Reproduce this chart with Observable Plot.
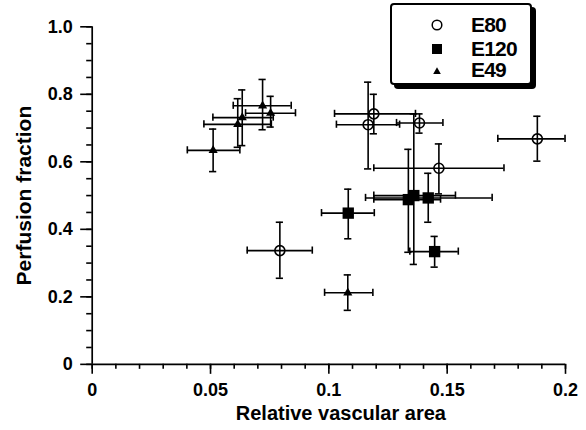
<!DOCTYPE html>
<html>
<head>
<meta charset="utf-8">
<script src="https://cdn.jsdelivr.net/npm/d3@7"></script>
<script src="https://cdn.jsdelivr.net/npm/@observablehq/plot@0.6"></script>
<style>
  body { margin: 0; background: #fff; }
  #wrap { position: relative; width: 586px; height: 430px; }
  .legend { position: absolute; left: 390px; top: 3px; width: 142px; height: 82px;
    border: 2px solid #000; border-radius: 4px; box-shadow: 4px 4px 0 #000; background: #fff;
    box-sizing: border-box; font-family: "Liberation Sans", Arial, sans-serif; font-weight: bold; color: #000; }
  .legend .row { position: absolute; left: 0; height: 20px; width: 130px; }
  .legend svg { position: absolute; left: 33px; top: 0; }
  .legend span { position: absolute; left: 79px; top: -0.5px; font-size: 21px; line-height: 20px; letter-spacing: -0.8px; }
</style>
</head>
<body>
<div id="wrap"></div>
<script>
// Series names (legend order)
const seriesNames = ["E80", "E120", "E49"];

// Points: centre (x, y) and error-bar ends
const e80 = [
  {x: 0.0793, y: 0.337, xlo: 0.0655, xhi: 0.0930, ylo: 0.255, yhi: 0.421},
  {x: 0.1166, y: 0.710, xlo: 0.1032, xhi: 0.1299, ylo: 0.579, yhi: 0.836},
  {x: 0.1190, y: 0.742, xlo: 0.1024, xhi: 0.1366, ylo: 0.683, yhi: 0.800},
  {x: 0.1383, y: 0.715, xlo: 0.1286, xhi: 0.1482, ylo: 0.685, yhi: 0.742},
  {x: 0.1465, y: 0.581, xlo: 0.1190, xhi: 0.1740, ylo: 0.505, yhi: 0.653},
  {x: 0.1881, y: 0.668, xlo: 0.1714, xhi: 0.1998, ylo: 0.602, yhi: 0.735}
];
const e120 = [
  {x: 0.1082, y: 0.448, xlo: 0.0969, xhi: 0.1192, ylo: 0.372, yhi: 0.519},
  {x: 0.1336, y: 0.488, xlo: 0.1190, xhi: 0.1472, ylo: 0.332, yhi: 0.637},
  {x: 0.1359, y: 0.500, xlo: 0.1190, xhi: 0.1535, ylo: 0.296, yhi: 0.742},
  {x: 0.1420, y: 0.493, xlo: 0.1155, xhi: 0.1690, ylo: 0.421, yhi: 0.566},
  {x: 0.1447, y: 0.334, xlo: 0.1342, xhi: 0.1547, ylo: 0.288, yhi: 0.379}
];
const e49 = [
  {x: 0.0511, y: 0.634, xlo: 0.0402, xhi: 0.0624, ylo: 0.571, yhi: 0.697},
  {x: 0.0615, y: 0.711, xlo: 0.0472, xhi: 0.0757, ylo: 0.643, yhi: 0.787},
  {x: 0.0634, y: 0.731, xlo: 0.0510, xhi: 0.0765, ylo: 0.648, yhi: 0.813},
  {x: 0.0720, y: 0.766, xlo: 0.0596, xhi: 0.0841, ylo: 0.695, yhi: 0.844},
  {x: 0.0754, y: 0.744, xlo: 0.0648, xhi: 0.0859, ylo: 0.703, yhi: 0.794},
  {x: 0.1080, y: 0.212, xlo: 0.0982, xhi: 0.1186, ylo: 0.160, yhi: 0.265}
];

// Axis ticks and labels
const xTicks = [0, 0.05, 0.1, 0.15, 0.2];
const xTickLabels = ["0", "0.05", "0.1", "0.15", "0.2"];
const yTicks = [0, 0.2, 0.4, 0.6, 0.8, 1.0];
const yTickLabels = ["0", "0.2", "0.4", "0.6", "0.8", "1.0"];
const xMinor = d3.range(0, 21).map(i => i / 100);
const yMinor = d3.range(0, 21).map(i => i / 20);
const xTitle = "Relative vascular area";
const yTitle = "Perfusion fraction";

const FONT = "'Liberation Sans', Arial, Helvetica, sans-serif";
const SW = 1.6;
const CAP = -3.6;

function errorBars(data) {
  return [
    Plot.ruleY(data, {y: "y", x1: "xlo", x2: "xhi", stroke: "#000", strokeWidth: SW}),
    Plot.ruleX(data, {x: "x", y1: "ylo", y2: "yhi", stroke: "#000", strokeWidth: SW}),
    Plot.ruleX(data, {x: "xlo", y1: "y", y2: "y", insetTop: CAP, insetBottom: CAP, stroke: "#000", strokeWidth: SW}),
    Plot.ruleX(data, {x: "xhi", y1: "y", y2: "y", insetTop: CAP, insetBottom: CAP, stroke: "#000", strokeWidth: SW}),
    Plot.ruleY(data, {y: "ylo", x1: "x", x2: "x", insetLeft: CAP, insetRight: CAP, stroke: "#000", strokeWidth: SW}),
    Plot.ruleY(data, {y: "yhi", x1: "x", x2: "x", insetLeft: CAP, insetRight: CAP, stroke: "#000", strokeWidth: SW})
  ];
}

const chart = Plot.plot({
  width: 586,
  height: 430,
  marginLeft: 91.7,
  marginRight: 21,
  marginTop: 26.3,
  marginBottom: 66.15,
  style: {fontFamily: FONT, fontSize: "18px", fontWeight: "bold", color: "#000", background: "#fff", overflow: "visible"},
  x: {domain: [0, 0.2], label: null},
  y: {domain: [0, 1], label: null},
  marks: [
    Plot.axisX({ticks: xMinor, tickSize: 5, tickFormat: () => "", strokeWidth: 1.6, label: null}),
    Plot.axisX({ticks: xTicks, tickSize: 10, tickPadding: 9, tickFormat: d => xTickLabels[xTicks.indexOf(d)], strokeWidth: 1.6, label: null}),
    Plot.axisY({ticks: yMinor, tickSize: 5.5, tickFormat: () => "", strokeWidth: 1.6, label: null}),
    Plot.axisY({ticks: yTicks, tickSize: 11.5, tickPadding: 8, tickFormat: d => yTickLabels[yTicks.indexOf(d)], strokeWidth: 1.6, label: null}),
    Plot.ruleY([0], {stroke: "#000", strokeWidth: 1.7}),
    Plot.ruleX([0], {stroke: "#000", strokeWidth: 1.7}),
    ...errorBars(e80),
    ...errorBars(e120),
    ...errorBars(e49),
    Plot.dot(e80, {x: "x", y: "y", r: 5, symbol: "circle", fill: "none", stroke: "#000", strokeWidth: 1.6}),
    Plot.dot(e120, {x: "x", y: "y", r: 6.4, symbol: "square", fill: "#000", stroke: "none"}),
    Plot.dot(e49, {x: "x", y: "y", r: 3.4, symbol: "triangle", fill: "#000", stroke: "none"}),
    Plot.text([xTitle], {text: d => d, frameAnchor: "bottom", lineAnchor: "middle", textAnchor: "middle", dx: 12, dy: 49, fontSize: 20, fontWeight: "bold"}),
    Plot.text([yTitle], {text: d => d, frameAnchor: "left", lineAnchor: "middle", textAnchor: "middle", rotate: -90, dx: -67.7, fontSize: 21, fontWeight: "bold"})
  ]
});

const wrap = document.getElementById("wrap");
wrap.appendChild(chart);

// Legend box (inside the plotting area, upper right)
const legend = document.createElement("div");
legend.className = "legend";
const rowsY = [20.3, 44, 65.5];
const symbols = [
  '<svg width="24" height="20"><circle cx="12" cy="10" r="4.8" fill="none" stroke="#000" stroke-width="1.5"/></svg>',
  '<svg width="24" height="20"><rect x="7" y="5" width="10" height="10" fill="#000"/></svg>',
  '<svg width="24" height="20"><path d="M12,6.3 L15.8,12.9 L8.2,12.9 Z" fill="#000"/></svg>'
];
seriesNames.forEach((name, i) => {
  const row = document.createElement("div");
  row.className = "row";
  row.style.top = (rowsY[i] - 10) + "px";
  row.innerHTML = symbols[i] + "<span>" + name + "</span>";
  legend.appendChild(row);
});
wrap.appendChild(legend);
</script>
</body>
</html>
